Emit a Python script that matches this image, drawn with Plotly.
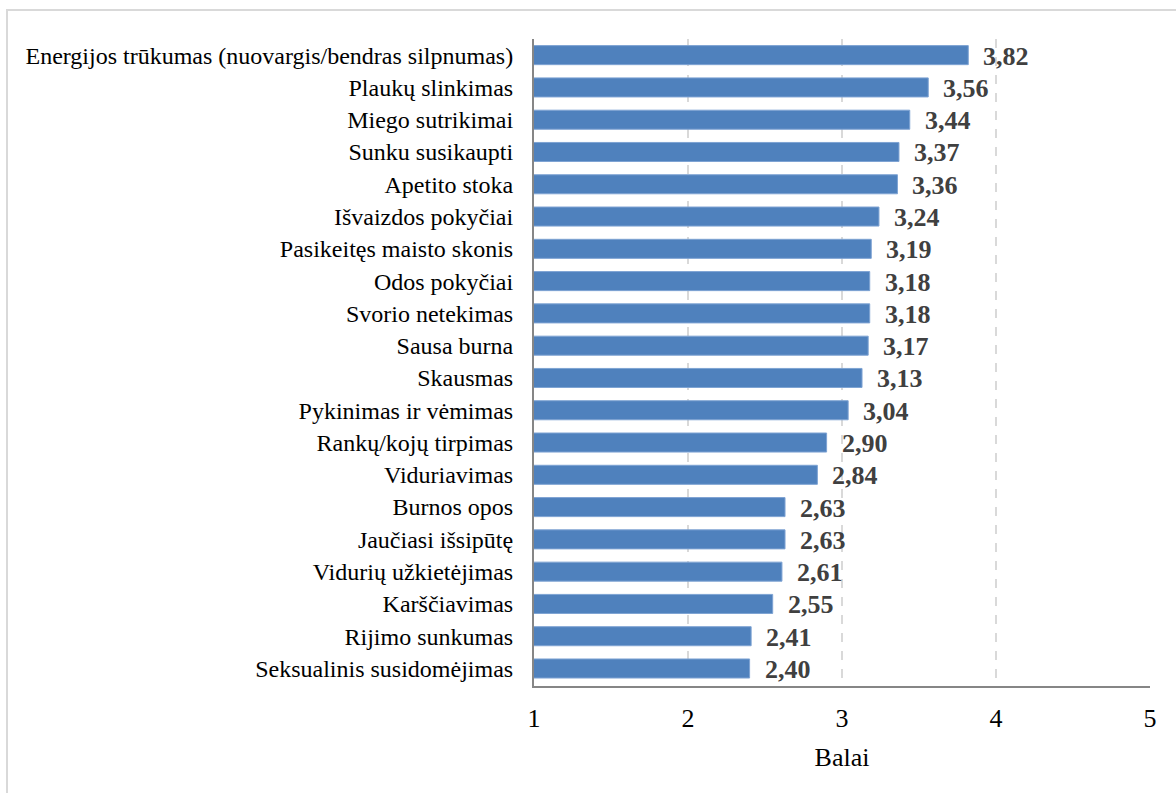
import plotly.graph_objects as go

# Symptom scores (Balai), listed top to bottom
categories = [
    "Energijos trūkumas (nuovargis/bendras silpnumas)",
    "Plaukų slinkimas",
    "Miego sutrikimai",
    "Sunku susikaupti",
    "Apetito stoka",
    "Išvaizdos pokyčiai",
    "Pasikeitęs maisto skonis",
    "Odos pokyčiai",
    "Svorio netekimas",
    "Sausa burna",
    "Skausmas",
    "Pykinimas ir vėmimas",
    "Rankų/kojų tirpimas",
    "Viduriavimas",
    "Burnos opos",
    "Jaučiasi išsipūtę",
    "Vidurių užkietėjimas",
    "Karščiavimas",
    "Rijimo sunkumas",
    "Seksualinis susidomėjimas",
]
scores = [3.82, 3.56, 3.44, 3.37, 3.36, 3.24, 3.19, 3.18, 3.18, 3.17,
          3.13, 3.04, 2.90, 2.84, 2.63, 2.63, 2.61, 2.55, 2.41, 2.40]
x_ticks = [1, 2, 3, 4, 5]

FONT = "Liberation Serif"

fig = go.Figure(
    go.Bar(
        x=scores,
        y=categories,
        orientation="h",
        marker=dict(color="#4F81BD", line=dict(color="#7EA3D3", width=1)),
        hoverinfo="x+y",
    )
)

# value labels to the right of each bar
for cat, v in zip(categories, scores):
    fig.add_annotation(
        x=v, y=cat, xref="x", yref="y",
        text=f"<b>{v:.2f}</b>".replace(".", ","),
        showarrow=False, xanchor="left", yanchor="middle",
        xshift=13, yshift=-1,
        font=dict(family=FONT, size=26, color="#404040"),
    )

# light frame around the whole chart
fig.add_shape(
    type="rect", xref="paper", yref="paper",
    x0=-0.8555, x1=1.2, y0=-0.4, y1=1.0448,
    line=dict(color="#D9D9D9", width=2), fillcolor="rgba(0,0,0,0)",
    layer="below",
)

fig.update_layout(
    width=1176, height=793,
    margin=dict(l=534, r=26, t=39, b=107),
    paper_bgcolor="white", plot_bgcolor="white",
    showlegend=False,
    bargap=0.41,
    font=dict(family=FONT, color="black"),
    xaxis=dict(
        range=[1, 5],
        tickvals=x_ticks,
        ticktext=[str(t) for t in x_ticks],
        tickfont=dict(family=FONT, size=26, color="black"),
        ticks="",
        ticklabelstandoff=8,
        showgrid=True, gridcolor="#D9D9D9", griddash="dash", gridwidth=1.5,
        zeroline=False,
        showline=True, linecolor="#868686", linewidth=2,
        title=dict(text="Balai", font=dict(family=FONT, size=26, color="black"), standoff=16),
    ),
    yaxis=dict(
        categoryorder="array",
        categoryarray=categories[::-1],
        tickfont=dict(family=FONT, size=24, color="black"),
        ticks="",
        ticklabelstandoff=14,
        showgrid=False, zeroline=False,
        showline=True, linecolor="#868686", linewidth=2,
    ),
)

fig.write_html("out.html")
